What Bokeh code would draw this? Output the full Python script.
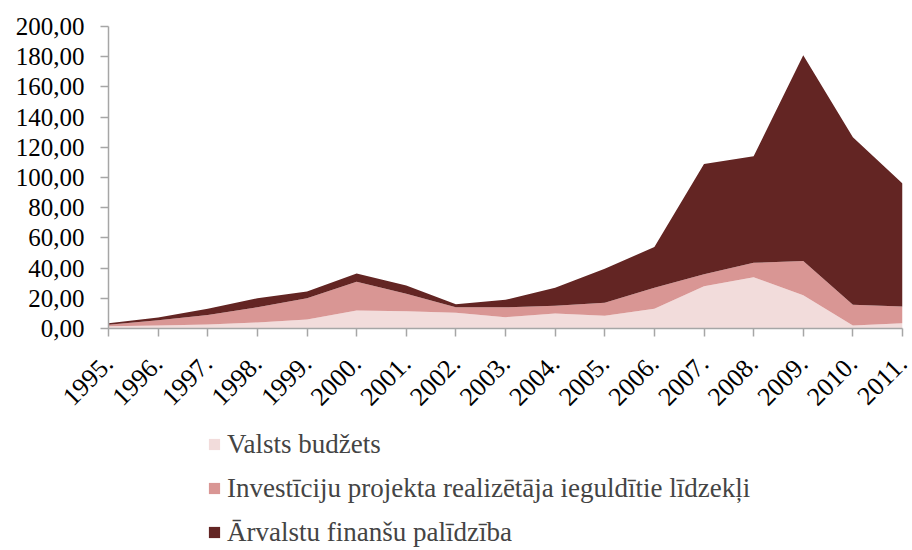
from bokeh.plotting import figure
from bokeh.models import ColumnDataSource, Range1d, FixedTicker, CustomJSTickFormatter, Legend
from bokeh.layouts import column
from bokeh.embed import file_html
from bokeh.resources import INLINE
import math

years = [1995, 1996, 1997, 1998, 1999, 2000, 2001, 2002, 2003, 2004, 2005,
         2006, 2007, 2008, 2009, 2010, 2011]
year_labels = [f"{y}." for y in years]
valsts = [1.5, 2.0, 2.6, 4.0, 6.0, 12.0, 11.5, 10.5, 7.5, 10.0, 8.5, 13.0, 28.0, 34.0, 22.0, 2.0, 3.5]
invest = [1.0, 3.5, 6.4, 10.0, 14.0, 19.0, 11.5, 3.5, 6.5, 5.0, 8.5, 14.0, 8.0, 9.5, 22.7, 13.8, 11.1]
arvalstu = [1.0, 1.8, 4.0, 6.0, 4.5, 5.5, 5.5, 2.0, 5.0, 12.0, 22.5, 27.0, 73.0, 70.5, 136.3, 110.9, 81.4]
series_names = ["Valsts budžets", "Investīciju projekta realizētāja ieguldītie līdzekļi",
                "Ārvalstu finanšu palīdzība"]
colors = ["#F2DCDB", "#D99694", "#632523"]
y_ticks = [0, 20, 40, 60, 80, 100, 120, 140, 160, 180, 200]

src = ColumnDataSource(dict(x=years, s0=valsts, s1=invest, s2=arvalstu))
font = "Liberation Serif"

p = figure(width=912, height=420, output_backend="svg", toolbar_location=None,
           x_range=Range1d(years[0], years[-1]), y_range=Range1d(0, 200),
           min_border_left=108, min_border_right=10, min_border_top=26,
           min_border_bottom=92)
p.outline_line_color = None
p.xgrid.visible = False
p.ygrid.visible = False

rs = p.varea_stack(stackers=["s0", "s1", "s2"], x="x", color=colors, source=src)

for ax in (p.xaxis[0], p.yaxis[0]):
    ax.axis_line_color = "#A6A6A6"
    ax.axis_line_width = 1.5
    ax.major_tick_line_color = "#A6A6A6"
    ax.major_tick_line_width = 1.5
    ax.major_tick_in = 0
    ax.major_tick_out = 8
    ax.minor_tick_line_color = None
    ax.major_label_text_font = font
    ax.major_label_text_color = "black"

p.yaxis.ticker = FixedTicker(ticks=y_ticks)
p.yaxis.formatter = CustomJSTickFormatter(code="return tick.toFixed(2).replace('.', ',');")
p.yaxis.major_label_standoff = 16
p.yaxis.major_label_text_font_size = "25px"

p.xaxis.ticker = FixedTicker(ticks=years)
p.xaxis.major_label_overrides = {y: l for y, l in zip(years, year_labels)}
p.xaxis.major_label_orientation = math.pi / 4
p.xaxis.major_label_standoff = 23
p.xaxis.major_label_text_font_size = "26px"

# legend panel below the chart
lg = figure(width=912, height=130, output_backend="svg", toolbar_location=None,
            x_range=Range1d(0, 1), y_range=Range1d(0, 1),
            min_border_left=0, min_border_right=0, min_border_top=0, min_border_bottom=0)
lg.outline_line_color = None
lg.axis.visible = False
lg.xgrid.visible = False
lg.ygrid.visible = False
lrs = [lg.quad(left=[-5], right=[-4], bottom=[-5], top=[-4], fill_color=c, line_color=None)
       for c in colors]

legend = Legend(items=[(n, [r]) for n, r in zip(series_names, lrs)],
                location=(99, -4), orientation="vertical",
                glyph_width=14, glyph_height=14, label_height=44, spacing=0,
                padding=0, margin=0, label_standoff=6,
                label_text_font=font, label_text_font_size="27px",
                border_line_color=None, background_fill_alpha=0)
lg.add_layout(legend, "center")

layout = column(p, lg, spacing=0)
open("out.html", "w").write(file_html(layout, INLINE))
